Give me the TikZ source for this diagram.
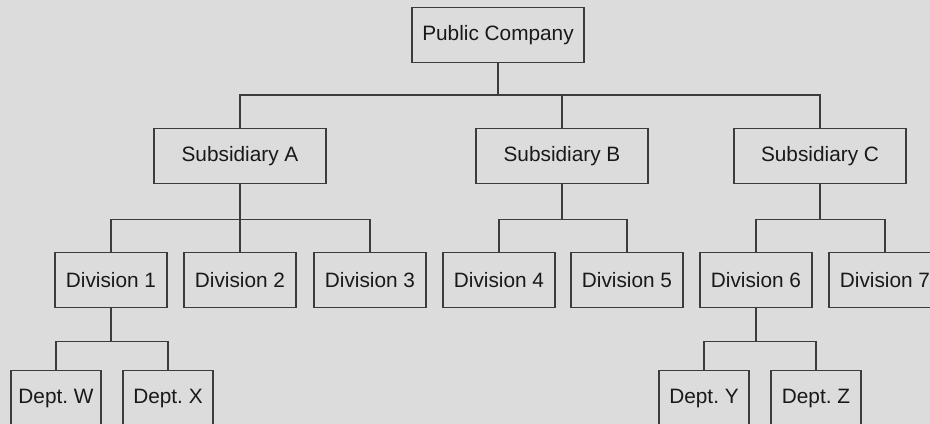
\documentclass[tikz,border=0pt]{standalone}
\usepackage{fontspec}
\setmainfont{Liberation Sans}
\frenchspacing
\definecolor{chartbg}{RGB}{220,220,220}
\definecolor{chartline}{RGB}{60,60,60}
\begin{document}
\begin{tikzpicture}[x=0.75pt, y=-0.75pt,
  unit/.style={shape=rectangle, draw=chartline, fill=chartbg, line width=1.45pt, inner sep=0pt, minimum height=41.25pt, font=\fontsize{15.6}{18}\selectfont, text=black!90},
  topbox/.style={unit, minimum width=129pt},
  divbox/.style={unit, minimum width=84pt},
  deptbox/.style={unit, minimum width=67.5pt},
  link/.style={draw=chartline, line width=1.45pt}]
\fill[chartbg] (0,0) rectangle (930,424);
\useasboundingbox (0,0) rectangle (930,424);
\node[topbox] (pc) at (498,35) {Public Company};
\node[topbox] (sa) at (240,156) {Subsidiary A};
\node[topbox] (sb) at (562,156) {Subsidiary B};
\node[topbox] (sc) at (820,156) {Subsidiary C};
\node[divbox] (d1) at (111,280) {Division 1};
\node[divbox] (d2) at (240,280) {Division 2};
\node[divbox] (d3) at (370,280) {Division 3};
\node[divbox] (d4) at (499,280) {Division 4};
\node[divbox] (d5) at (627,280) {Division 5};
\node[divbox] (d6) at (756,280) {Division 6};
\node[divbox] (d7) at (885,280) {Division 7};
\node[deptbox] (dw) at (56,398) {Dept. W};
\node[deptbox] (dx) at (168,398) {Dept. X};
\node[deptbox] (dy) at (704,398) {Dept. Y};
\node[deptbox] (dz) at (816,398) {Dept. Z};
\draw[link] (pc.south) -- ++(0,32) -| (sa.north);
\draw[link] (pc.south) -- ++(0,32) -| (sb.north);
\draw[link] (pc.south) -- ++(0,32) -| (sc.north);
\draw[link] (sa.south) -- ++(0,35) -| (d1.north);
\draw[link] (sa.south) -- (d2.north);
\draw[link] (sa.south) -- ++(0,35) -| (d3.north);
\draw[link] (sb.south) -- ++(0,35) -| (d4.north);
\draw[link] (sb.south) -- ++(0,35) -| (d5.north);
\draw[link] (sc.south) -- ++(0,35) -| (d6.north);
\draw[link] (sc.south) -- ++(0,35) -| (d7.north);
\draw[link] (d1.south) -- ++(0,33) -| (dw.north);
\draw[link] (d1.south) -- ++(0,33) -| (dx.north);
\draw[link] (d6.south) -- ++(0,33) -| (dy.north);
\draw[link] (d6.south) -- ++(0,33) -| (dz.north);
\end{tikzpicture}
\end{document}
